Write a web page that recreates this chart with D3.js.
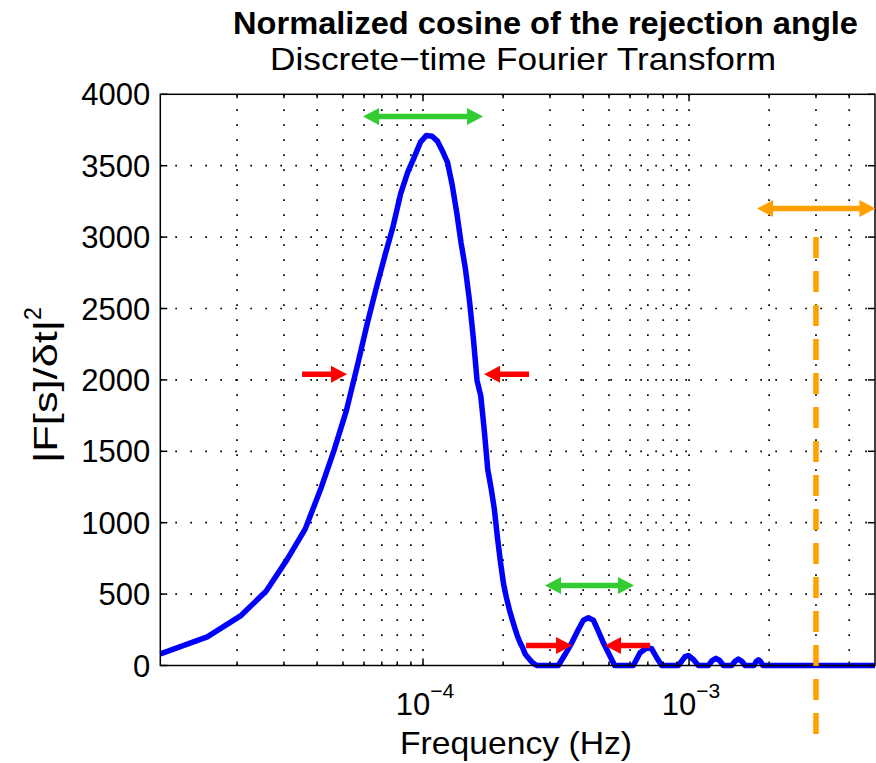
<!DOCTYPE html>
<html><head><meta charset="utf-8">
<script src="https://cdn.jsdelivr.net/npm/d3@7"></script>
<style>
body{margin:0;background:#fff}
svg{display:block}
text{font-family:"Liberation Sans",Arial,Helvetica,sans-serif;fill:#000}
</style>
</head><body>
<svg id="c" width="876" height="763"></svg>
<script>
// ---- data ----
const frequencyHz = [
  1.030e-5,1.545e-5,2.060e-5,2.575e-5,3.090e-5,3.605e-5,4.120e-5,4.635e-5,5.150e-5,5.665e-5,
  6.180e-5,6.695e-5,7.210e-5,7.725e-5,8.240e-5,8.755e-5,9.270e-5,9.785e-5,1.030e-4,1.0815e-4,
  1.133e-4,1.1845e-4,1.236e-4,1.2875e-4,1.339e-4,1.3905e-4,1.442e-4,1.4935e-4,1.545e-4,1.5965e-4,
  1.648e-4,1.6995e-4,1.751e-4,1.8025e-4,1.854e-4,1.9055e-4,1.957e-4,2.0085e-4,2.060e-4,2.1115e-4,
  2.163e-4,2.2145e-4,2.266e-4,2.3175e-4,2.369e-4,2.4205e-4,2.472e-4,2.5235e-4,2.575e-4,2.6265e-4,2.678e-4,
  3.226e-4,3.418e-4,3.624e-4,3.836e-4,4.006e-4,4.183e-4,4.368e-4,4.560e-4,4.763e-4,4.974e-4,5.25e-4,
  6.174e-4,6.543e-4,6.934e-4,7.241e-4,7.561e-4,7.895e-4,
  9.116e-4,9.66e-4,9.94e-4,1.038e-3,1.084e-3,
  1.182e-3,1.222e-3,1.261e-3,1.303e-3,1.346e-3,
  1.447e-3,1.489e-3,1.532e-3,1.578e-3,1.624e-3,
  1.755e-3,1.788e-3,1.822e-3,1.857e-3,1.892e-3,
  5.0e-3
];
const magnitude = [
  82,200,347,521,745,955,1234,1510,1785,2100,
  2400,2655,2878,3078,3305,3453,3560,3665,3712,3706,
  3672,3601,3524,3364,3171,2958,2783,2562,2296,1995,
  1890,1645,1372,1242,1095,892,717,570,472,391,
  323,262,203,159,125,80,60,40,22,10,0,
  0,77,159,252,317,334,317,240,159,89,0,
  0,89,124,117,54,0,
  0,62,70,42,0,
  0,35,50,35,0,
  0,30,45,30,0,
  0,28,40,28,0,
  0
];
const yTicks = [0,500,1000,1500,2000,2500,3000,3500,4000];
const xMajorTicks = [1e-4,1e-3];
const xMajorExponents = ["\u22124","\u22123"];
const xMinorTicks = [2e-5,3e-5,4e-5,5e-5,6e-5,7e-5,8e-5,9e-5,
  2e-4,3e-4,4e-4,5e-4,6e-4,7e-4,8e-4,9e-4,2e-3,3e-3,4e-3];
// annotations in data units: [fromHz, toHz, level]
const redArrows = [[3.509e-5,5.18e-5,2040],[2.503e-4,1.696e-4,2040],[2.44e-4,3.633e-4,140],[7.135e-4,4.83e-4,140]];
const greenArrows = [[5.95e-5,1.681e-4,3845],[2.874e-4,6.21e-4,560]];
const orangeArrow = [1.802e-3,5.02e-3,3200];
const orangeLine = [3e-3,3000,-500];

const titleText = "Normalized cosine of the rejection angle";
const subtitleText = "Discrete\u2212time Fourier Transform";
const xLabelText = "Frequency (Hz)";

// ---- drawing ----
const svg = d3.select("#c");
const L=160.3,R=875,T=94.3,B=665.5;
const x = d3.scaleLog().domain([1.029e-5,5e-3]).range([L,R]);
const y = d3.scaleLinear().domain([0,4000]).range([B,T]);

// grid
const grid = svg.append("g").attr("stroke","#000").attr("stroke-width",1.7).attr("stroke-dasharray","1.7,13.3");
yTicks.slice(1,-1).forEach(v=>grid.append("line").attr("x1",L).attr("x2",R).attr("y1",y(v)).attr("y2",y(v)));
xMajorTicks.concat(xMinorTicks).forEach(f=>grid.append("line").attr("x1",x(f)).attr("x2",x(f)).attr("y1",T).attr("y2",B));

// data line
const pts = frequencyHz.map((f,i)=>[f,magnitude[i]]);
svg.append("path").datum(pts)
  .attr("d",d3.line().x(d=>x(d[0])).y(d=>y(d[1])))
  .attr("fill","none").attr("stroke","#0000ff").attr("stroke-width",5.5)
  .attr("stroke-linejoin","round").attr("stroke-linecap","butt");

// axes box + ticks
const ax = svg.append("g").attr("stroke","#000").attr("stroke-width",1.5);
ax.append("rect").attr("x",L).attr("y",T).attr("width",R-L).attr("height",B-T).attr("fill","none");
yTicks.forEach(v=>{
  ax.append("line").attr("x1",L).attr("x2",L+7).attr("y1",y(v)).attr("y2",y(v));
  ax.append("line").attr("x1",R).attr("x2",R-7).attr("y1",y(v)).attr("y2",y(v));
});
xMajorTicks.forEach(f=>{
  ax.append("line").attr("x1",x(f)).attr("x2",x(f)).attr("y1",B).attr("y2",B-7);
  ax.append("line").attr("x1",x(f)).attr("x2",x(f)).attr("y1",T).attr("y2",T+7);
});
xMinorTicks.forEach(f=>{
  ax.append("line").attr("x1",x(f)).attr("x2",x(f)).attr("y1",B).attr("y2",B-4);
  ax.append("line").attr("x1",x(f)).attr("x2",x(f)).attr("y1",T).attr("y2",T+4);
});

// tick labels
yTicks.forEach(v=>svg.append("text").attr("x",L-10).attr("y",y(v)).attr("dy","0.36em")
  .attr("text-anchor","end").attr("font-size",31).text(v));
xMajorTicks.forEach((f,i)=>{
  const t = svg.append("text").attr("x",x(f)+2).attr("y",715).attr("text-anchor","middle").attr("font-size",31);
  t.append("tspan").text("10");
  t.append("tspan").attr("font-size",21).attr("dy",-17).text(xMajorExponents[i]);
});

// labels
svg.append("text").attr("x",516).attr("y",754).attr("text-anchor","middle").attr("font-size",32)
  .attr("textLength",232).attr("lengthAdjust","spacingAndGlyphs").text(xLabelText);
const yl = svg.append("text").attr("transform","translate(57,385) rotate(-90)").attr("text-anchor","middle").attr("font-size",34);
yl.append("tspan").attr("textLength",143).attr("lengthAdjust","spacingAndGlyphs").text("|F[s]/\u03b4t|");
yl.append("tspan").attr("font-size",23).attr("dy",-16).text("2");

svg.append("text").attr("x",545.5).attr("y",34).attr("text-anchor","middle").attr("font-size",31).attr("font-weight","bold")
  .attr("textLength",625).attr("lengthAdjust","spacingAndGlyphs").text(titleText);
svg.append("text").attr("x",523).attr("y",70).attr("text-anchor","middle").attr("font-size",32)
  .attr("textLength",506).attr("lengthAdjust","spacingAndGlyphs").text(subtitleText);

// annotations
function arrow(x1,x2,yy,color,both){
  const g = svg.append("g");
  const hl=16, hh=8.5, dir = x2>x1?1:-1;
  g.append("line").attr("x1",both? x1+dir*hl*0.8 : x1).attr("x2",x2-dir*hl*0.8).attr("y1",yy).attr("y2",yy)
    .attr("stroke",color).attr("stroke-width",5.5);
  g.append("path").attr("d",`M${x2},${yy} L${x2-dir*hl},${yy-hh} L${x2-dir*hl},${yy+hh} Z`).attr("fill",color);
  if(both) g.append("path").attr("d",`M${x1},${yy} L${x1+dir*hl},${yy-hh} L${x1+dir*hl},${yy+hh} Z`).attr("fill",color);
}
redArrows.forEach(a=>arrow(x(a[0]),x(a[1]),y(a[2]),"#ff0000",false));
greenArrows.forEach(a=>arrow(x(a[0]),x(a[1]),y(a[2]),"#33cc33",true));
arrow(x(orangeArrow[0]),x(orangeArrow[1]),y(orangeArrow[2]),"#ffa000",true);
svg.append("line").attr("x1",x(orangeLine[0])).attr("x2",x(orangeLine[0]))
  .attr("y1",y(orangeLine[1])).attr("y2",y(orangeLine[2]))
  .attr("stroke","#ffa000").attr("stroke-width",5.5).attr("stroke-dasharray","21,13");
</script>
</body></html>
